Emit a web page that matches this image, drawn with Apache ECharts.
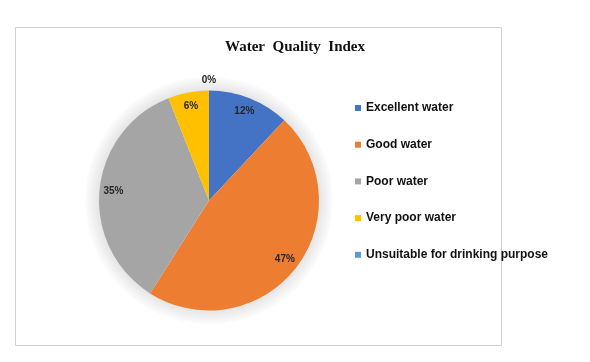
<!DOCTYPE html>
<html>
<head>
<meta charset="utf-8">
<script src="https://cdn.jsdelivr.net/npm/echarts@6/dist/echarts.min.js"></script>
<style>
html,body{margin:0;padding:0;background:#fff;}
#chart{width:590px;height:362px;}
</style>
</head>
<body>
<div id="chart"></div>
<script>
const titleText = 'Water  Quality  Index';
const categories = ['Excellent water', 'Good water', 'Poor water', 'Very poor water', 'Unsuitable for drinking purpose'];
const values = [12, 47, 35, 6, 0];
const colors = ['#4472C4', '#ED7D31', '#A5A5A5', '#FFC000', '#5B9BD5'];

const center = [209, 200.5];
const chart = echarts.init(document.getElementById('chart'));

const mainData = categories.map((n, i) => ({ name: n, value: values[i], itemStyle: { color: colors[i] } }));
const innerLabelData = categories.map((n, i) => ({ name: n, value: values[i], label: { show: values[i] > 0 } }));
const outerLabelData = categories.map((n, i) => ({ name: n, value: values[i], label: { show: values[i] === 0 } }));

const labelStyle = {
  position: 'inside',
  formatter: '{d}%',
  fontFamily: 'Liberation Sans',
  fontWeight: 'bold',
  fontSize: 10,
  color: '#262626',
  rotate: 0
};

const glow = new echarts.graphic.RadialGradient(0.5, 0.5, 0.5, [
  { offset: 0, color: '#e4e4e4' },
  { offset: 0.88, color: '#e4e4e4' },
  { offset: 0.94, color: '#f0f0f0' },
  { offset: 1, color: '#fdfdfd' }
]);

chart.setOption({
  animation: false,
  backgroundColor: '#fff',
  title: {
    text: titleText,
    left: 290,
    textAlign: 'center',
    top: 35,
    textStyle: { fontFamily: 'Liberation Serif', fontWeight: 'bold', fontSize: 15, color: '#111' }
  },
  graphic: [{
    type: 'rect',
    shape: { x: 15.5, y: 27.5, width: 486, height: 318 },
    style: { fill: 'none', stroke: '#d0d0d0', lineWidth: 1 },
    z: -10
  }],
  legend: {
    orient: 'vertical',
    left: 350,
    top: 96,
    data: categories,
    icon: 'rect',
    itemWidth: 6,
    itemHeight: 6,
    itemGap: 22.7,
    textStyle: { fontFamily: 'Liberation Sans', fontWeight: 'bold', fontSize: 12, color: '#111', lineHeight: 14 },
    selectedMode: false
  },
  series: [
    {
      type: 'pie',
      name: 'main',
      center: center,
      radius: 110,
      startAngle: 90,
      silent: true,
      label: { show: false },
      labelLine: { show: false },
      data: mainData,
      z: 3
    },
    {
      type: 'pie',
      name: 'glow',
      center: center,
      radius: [100, 124],
      silent: true,
      label: { show: false },
      labelLine: { show: false },
      itemStyle: { color: glow },
      data: [{ name: '_bg', value: 1 }],
      z: 1
    },
    {
      type: 'pie',
      name: 'innerLabels',
      center: center,
      radius: [76, 110],
      startAngle: 90,
      silent: true,
      itemStyle: { color: 'rgba(0,0,0,0)' },
      label: labelStyle,
      labelLine: { show: false },
      data: innerLabelData,
      z: 5
    },
    {
      type: 'pie',
      name: 'outerLabels',
      center: center,
      radius: [108, 126],
      startAngle: 90,
      silent: true,
      itemStyle: { color: 'rgba(0,0,0,0)' },
      label: labelStyle,
      labelLine: { show: false },
      data: outerLabelData,
      z: 5
    }
  ]
});
</script>
</body>
</html>
